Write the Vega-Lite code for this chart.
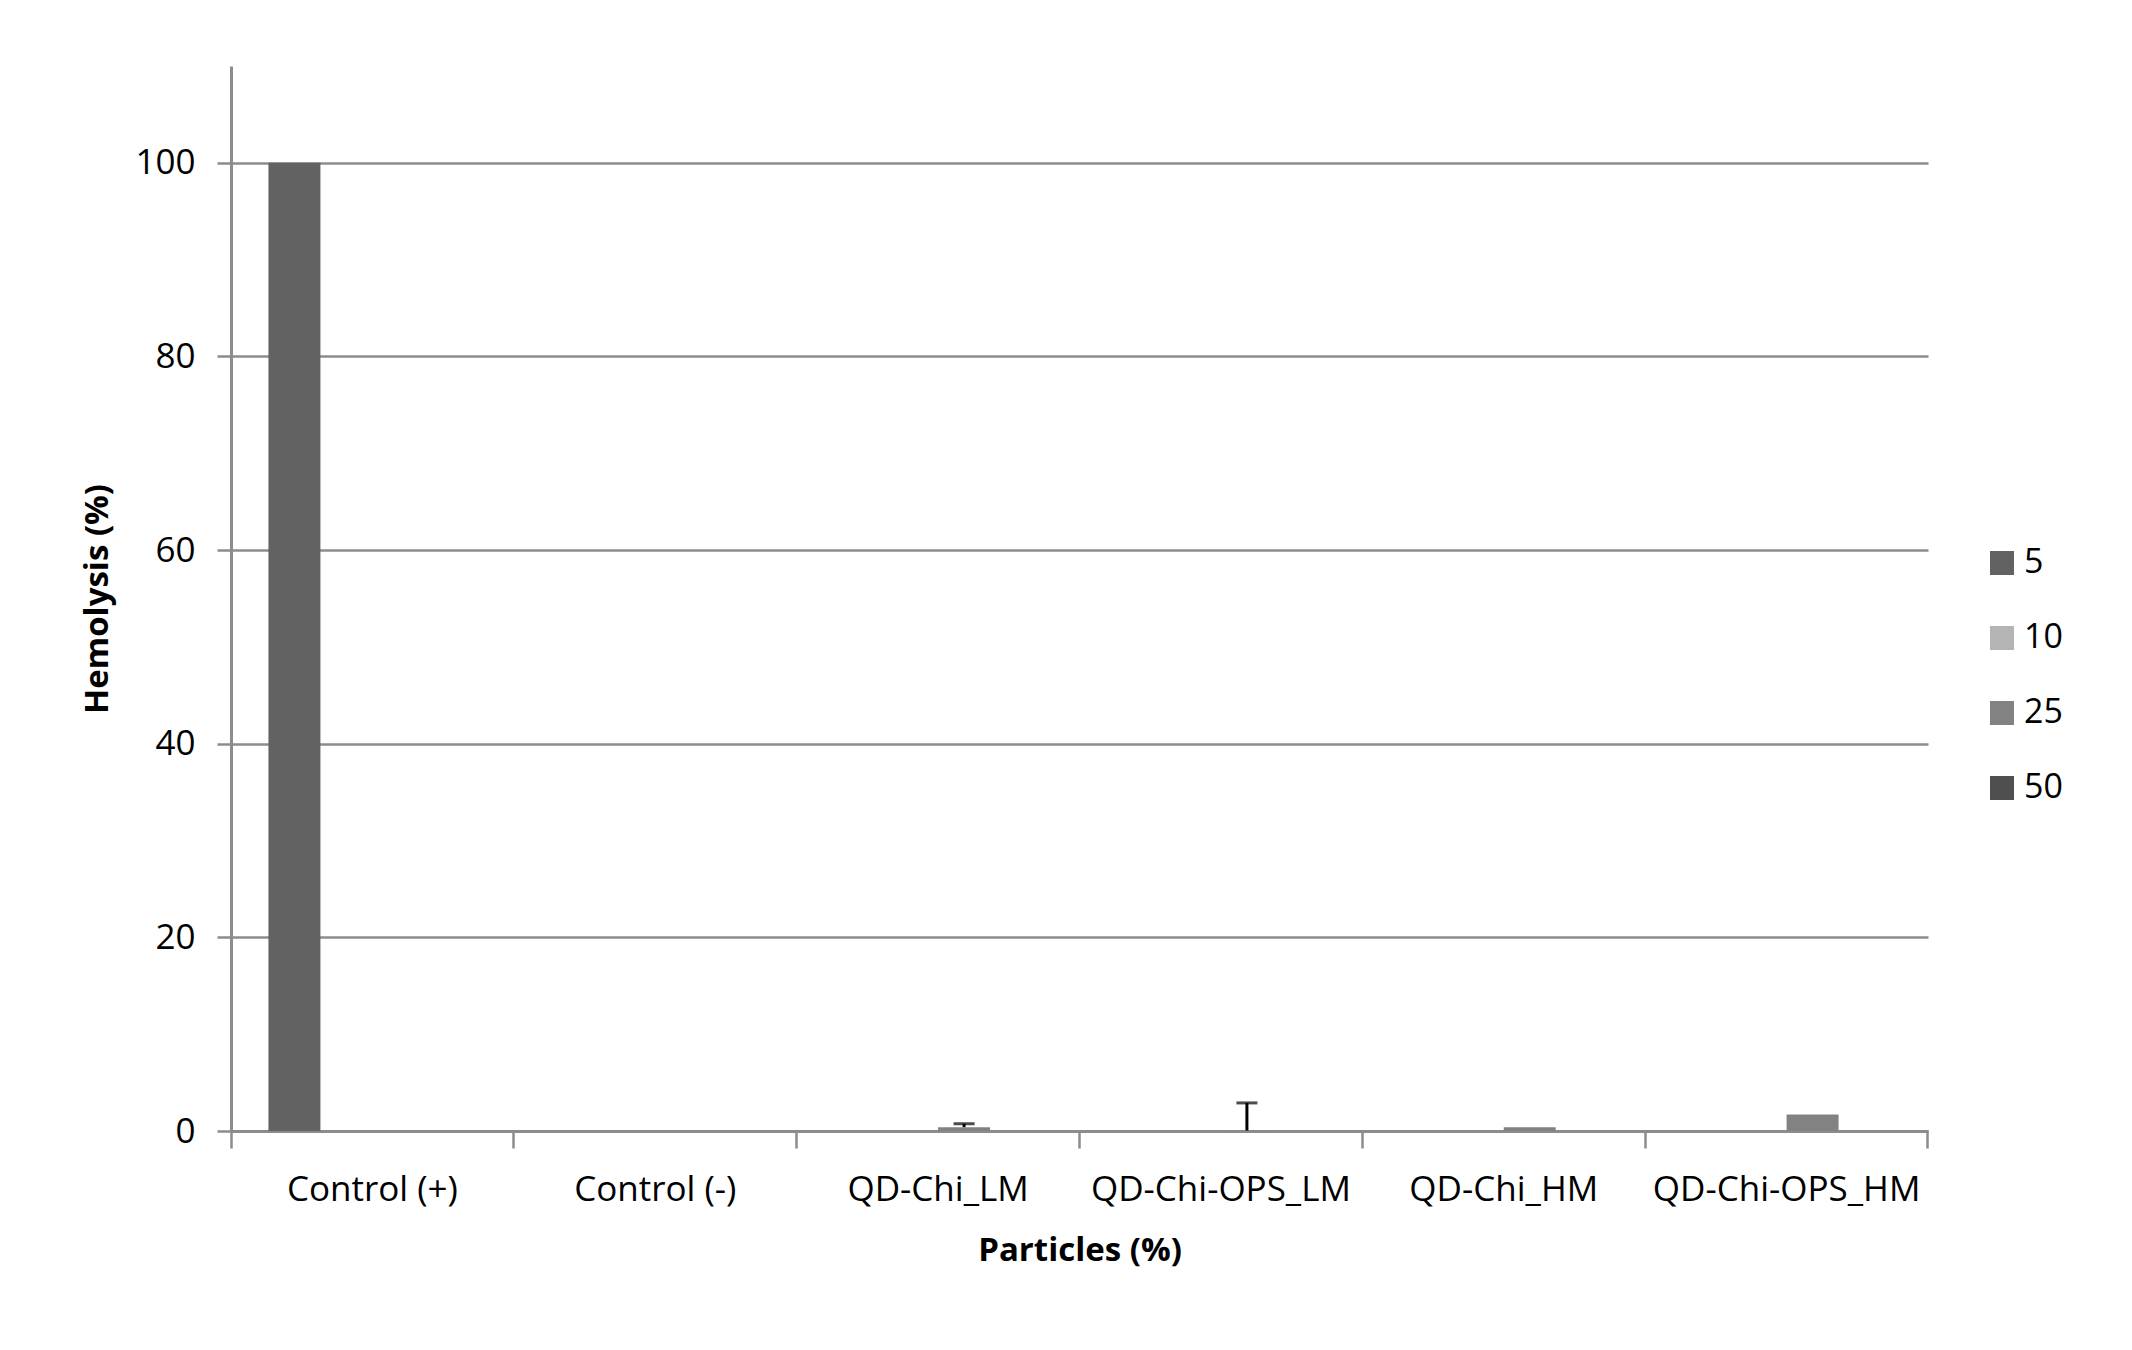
{
  "$schema": "https://vega.github.io/schema/vega-lite/v6.json",
  "width": 1697,
  "height": 1065,
  "autosize": {"type": "none"},
  "padding": {"left": 231, "top": 66, "right": 204, "bottom": 219},
  "background": "white",
  "config": {
    "view": {"stroke": null},
    "font": "Open Sans",
    "axis": {
      "labelFont": "Open Sans",
      "titleFont": "Open Sans",
      "labelColor": "#000000",
      "titleColor": "#000000",
      "domainColor": "#8c8c8c",
      "tickColor": "#8c8c8c",
      "gridColor": "#8c8c8c"
    }
  },
  "data": {
    "values": [
      {"cat": "Control (+)", "conc": "5", "value": 100, "hi": null},
      {"cat": "Control (+)", "conc": "10", "value": 0, "hi": null},
      {"cat": "Control (+)", "conc": "25", "value": 0, "hi": null},
      {"cat": "Control (+)", "conc": "50", "value": 0, "hi": null},
      {"cat": "Control (-)", "conc": "5", "value": 0, "hi": null},
      {"cat": "Control (-)", "conc": "10", "value": 0, "hi": null},
      {"cat": "Control (-)", "conc": "25", "value": 0, "hi": null},
      {"cat": "Control (-)", "conc": "50", "value": 0, "hi": null},
      {"cat": "QD-Chi_LM", "conc": "5", "value": 0, "hi": null},
      {"cat": "QD-Chi_LM", "conc": "10", "value": 0, "hi": null},
      {"cat": "QD-Chi_LM", "conc": "25", "value": 0.4, "hi": 0.75},
      {"cat": "QD-Chi_LM", "conc": "50", "value": 0, "hi": null},
      {"cat": "QD-Chi-OPS_LM", "conc": "5", "value": 0, "hi": null},
      {"cat": "QD-Chi-OPS_LM", "conc": "10", "value": 0, "hi": null},
      {"cat": "QD-Chi-OPS_LM", "conc": "25", "value": 0.05, "hi": 2.9},
      {"cat": "QD-Chi-OPS_LM", "conc": "50", "value": 0, "hi": null},
      {"cat": "QD-Chi_HM", "conc": "5", "value": 0, "hi": null},
      {"cat": "QD-Chi_HM", "conc": "10", "value": 0, "hi": null},
      {"cat": "QD-Chi_HM", "conc": "25", "value": 0.4, "hi": null},
      {"cat": "QD-Chi_HM", "conc": "50", "value": 0, "hi": null},
      {"cat": "QD-Chi-OPS_HM", "conc": "5", "value": 0, "hi": null},
      {"cat": "QD-Chi-OPS_HM", "conc": "10", "value": 0, "hi": null},
      {"cat": "QD-Chi-OPS_HM", "conc": "25", "value": 1.7, "hi": null},
      {"cat": "QD-Chi-OPS_HM", "conc": "50", "value": 0, "hi": null}
    ]
  },
  "encoding": {
    "x": {
      "field": "cat",
      "type": "nominal",
      "sort": ["Control (+)", "Control (-)", "QD-Chi_LM", "QD-Chi-OPS_LM", "QD-Chi_HM", "QD-Chi-OPS_HM"],
      "scale": {"paddingInner": 0, "paddingOuter": 0},
      "axis": {
        "title": "Particles (%)",
        "titleFontSize": 33,
        "titleFontWeight": "bold",
        "titlePadding": 27,
        "labelFontSize": 35,
        "labelAngle": 0,
        "labelPadding": 24,
        "labelLimit": 0,
        "tickSize": 17,
        "tickWidth": 2.5,
        "domainWidth": 3,
        "bandPosition": 1,
        "tickExtra": true,
        "grid": false
      }
    },
    "xOffset": {
      "field": "conc",
      "type": "nominal",
      "sort": ["5", "10", "25", "50"],
      "scale": {"domain": ["5", "10", "25", "50"], "paddingInner": 0, "paddingOuter": 0.72}
    }
  },
  "layer": [
    {
      "mark": {"type": "bar"},
      "encoding": {
        "y": {
          "field": "value",
          "type": "quantitative",
          "scale": {"domain": [0, 110], "nice": false},
          "axis": {
            "title": "Hemolysis (%)",
            "titleFontSize": 33,
            "titleFontWeight": "bold",
            "titlePadding": 20,
            "labelFontSize": 35,
            "labelPadding": 22,
            "values": [0, 20, 40, 60, 80, 100],
            "tickSize": 14,
            "tickWidth": 2.5,
            "domainWidth": 3,
            "grid": true,
            "gridWidth": 2.5
          }
        },
        "color": {
          "field": "conc",
          "type": "nominal",
          "sort": ["5", "10", "25", "50"],
          "scale": {"domain": ["5", "10", "25", "50"], "range": ["#626262", "#b4b4b4", "#828282", "#4f4f4f"]},
          "legend": {
            "title": null,
            "orient": "none",
            "legendX": 1754,
            "legendY": 480,
            "symbolType": "square",
            "symbolSize": 576,
            "symbolStrokeWidth": 0,
            "labelFontSize": 34,
            "labelFont": "Open Sans",
            "labelColor": "#000000",
            "labelOffset": 5,
            "rowPadding": 41
          }
        }
      }
    },
    {
      "transform": [{"filter": "datum.hi != null"}],
      "mark": {"type": "rule", "color": "#000000", "strokeWidth": 3},
      "encoding": {
        "y": {"field": "value", "type": "quantitative"},
        "y2": {"field": "hi"}
      }
    },
    {
      "transform": [{"filter": "datum.hi != null"}],
      "mark": {"type": "tick", "color": "#000000", "thickness": 3, "size": 21, "orient": "horizontal"},
      "encoding": {
        "y": {"field": "hi", "type": "quantitative"}
      }
    }
  ]
}
